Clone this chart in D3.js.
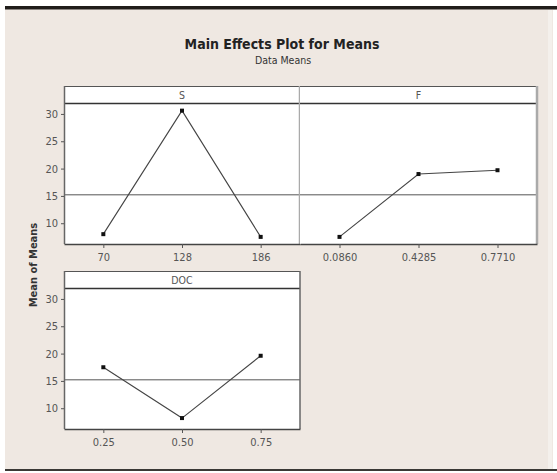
<!DOCTYPE html>
<html><head><meta charset="utf-8">
<script src="https://cdn.jsdelivr.net/npm/d3@7"></script>
<style>body{margin:0;background:#fff}svg{display:block}</style>
</head><body>
<script>
// ---- data ----
const factors = ["S", "F", "DOC"];
const sLevels = ["70", "128", "186"];
const sMeans = [8.0, 30.6, 7.5];
const fLevels = ["0.0860", "0.4285", "0.7710"];
const fMeans = [7.5, 19.0, 19.7];
const docLevels = ["0.25", "0.50", "0.75"];
const docMeans = [17.5, 8.2, 19.6];
const yTicks = [10, 15, 20, 25, 30];
const grandMean = 15.2;
const yDomain = [6.2, 32];

const W = 557, H = 473;
const svg = d3.select("body").append("svg").attr("width", W).attr("height", H);
const FONT = "'DejaVu Sans Condensed','DejaVu Sans',sans-serif";

// frame
svg.append("rect").attr("x", 0).attr("y", 0).attr("width", W).attr("height", H).attr("fill", "#fff");
svg.append("rect").attr("x", 5).attr("y", 9).attr("width", 548).attr("height", 461).attr("fill", "#efe8e2");
svg.append("rect").attr("x", 5).attr("y", 6).attr("width", 552).attr("height", 3).attr("fill", "#201d1a");
svg.append("rect").attr("x", 5).attr("y", 9).attr("width", 552).attr("height", 1).attr("fill", "#8a8480");
svg.append("rect").attr("x", 5).attr("y", 469).attr("width", 552).attr("height", 2).attr("fill", "#3a3835");
svg.append("rect").attr("x", 548).attr("y", 10).attr("width", 4).attr("height", 459).attr("fill", "#f4f0ec");

// titles
svg.append("text").attr("x", 282).attr("y", 49).attr("text-anchor", "middle")
  .attr("font-family", FONT).attr("font-weight", "bold").attr("font-size", 14).attr("fill", "#222")
  .text("Main Effects Plot for Means");
svg.append("text").attr("x", 283).attr("y", 64).attr("text-anchor", "middle")
  .attr("font-family", FONT).attr("font-size", 10.5).attr("fill", "#333")
  .text("Data Means");
svg.append("text").attr("transform", "translate(37,265) rotate(-90)").attr("text-anchor", "middle")
  .attr("font-family", FONT).attr("font-weight", "bold").attr("font-size", 11).attr("fill", "#333")
  .text("Mean of Means");

const panels = [
  { name: factors[0], levels: sLevels, means: sMeans, x0: 64, x1: 300, top: 86, leftAxis: true },
  { name: factors[1], levels: fLevels, means: fMeans, x0: 300, x1: 537, top: 86, leftAxis: false },
  { name: factors[2], levels: docLevels, means: docMeans, x0: 64, x1: 300, top: 271, leftAxis: true }
];
const stripH = 17, plotH = 141;

panels.forEach(p => {
  const g = svg.append("g");
  const pTop = p.top + stripH, pBot = pTop + plotH;
  const x = d3.scalePoint().domain(p.levels).range([p.x0, p.x1]).padding(0.5);
  const y = d3.scaleLinear().domain(yDomain).range([pBot, pTop]);

  // strip + plot background
  g.append("rect").attr("x", p.x0).attr("y", p.top).attr("width", p.x1 - p.x0).attr("height", pBot - p.top)
    .attr("fill", "#fff");
  g.append("text").attr("x", (p.x0 + p.x1) / 2).attr("y", p.top + 12.5).attr("text-anchor", "middle")
    .attr("font-family", FONT).attr("font-size", 10.5).attr("fill", "#555").text(p.name);
  // strip border
  g.append("line").attr("x1", p.x0).attr("x2", p.x1).attr("y1", p.top + 0.5).attr("y2", p.top + 0.5)
    .attr("stroke", "#555").attr("stroke-width", 1);
  g.append("line").attr("x1", p.x0).attr("x2", p.x1).attr("y1", pTop + 0.5).attr("y2", pTop + 0.5)
    .attr("stroke", "#333").attr("stroke-width", 1.3);

  // reference line
  g.append("line").attr("x1", p.x0).attr("x2", p.x1).attr("y1", y(grandMean)).attr("y2", y(grandMean))
    .attr("stroke", "#555").attr("stroke-width", 1);

  // series
  const pts = p.levels.map((l, i) => [x(l), y(p.means[i])]);
  g.append("path").attr("d", d3.line()(pts)).attr("fill", "none").attr("stroke", "#444").attr("stroke-width", 1.1);
  g.selectAll("rect.pt").data(pts).join("rect").attr("class", "pt")
    .attr("x", d => d[0] - 2).attr("y", d => d[1] - 2).attr("width", 4).attr("height", 4).attr("fill", "#111");

  // borders
  if (p.leftAxis) {
    g.append("line").attr("x1", p.x0 + 0.5).attr("x2", p.x0 + 0.5).attr("y1", p.top).attr("y2", pBot)
      .attr("stroke", "#666").attr("stroke-width", 1.5);
  }
  // right border
  const grey = (p.name === "S" || p.name === "F");
  g.append("line").attr("x1", p.x1).attr("x2", p.x1).attr("y1", p.top).attr("y2", pBot)
    .attr("stroke", grey ? "#aaa" : "#666").attr("stroke-width", grey ? 2.5 : 1.5);

  // x axis
  const xa = g.append("g").attr("transform", `translate(0,${pBot})`)
    .call(d3.axisBottom(x).tickSize(4).tickSizeOuter(0));
  xa.select(".domain").attr("stroke", "#444").attr("stroke-width", 1.5);
  xa.selectAll(".tick line").attr("stroke", "#555");
  xa.selectAll(".tick text").attr("font-family", FONT).attr("font-size", 11).attr("fill", "#555").attr("dy", "0.9em");

  if (p.leftAxis) {
    const ya = g.append("g").attr("transform", `translate(${p.x0},0)`)
      .call(d3.axisLeft(y).tickValues(yTicks).tickSize(3).tickSizeOuter(0));
    ya.select(".domain").remove();
    ya.selectAll(".tick line").attr("stroke", "#555");
    ya.selectAll(".tick text").attr("font-family", FONT).attr("font-size", 11).attr("fill", "#555");
  }
});
</script>
</body></html>
